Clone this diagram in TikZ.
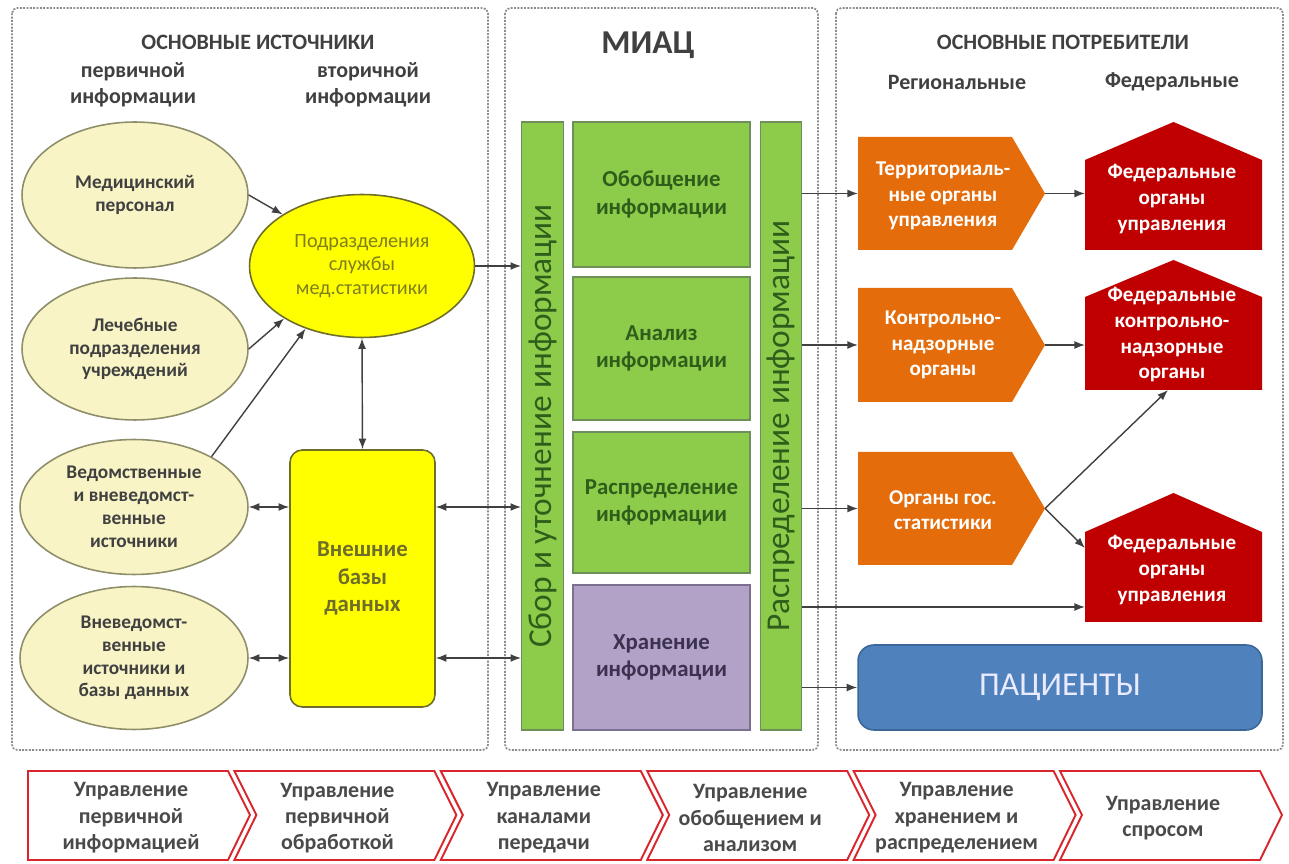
\documentclass[tikz,border=0pt]{standalone}
\usepackage{fontspec}
\setmainfont{Carlito}
\usepackage{xcolor}
\usepackage{tikz}
\usetikzlibrary{arrows.meta,shapes.geometric}

\definecolor{panelgray}{HTML}{8C8C8C}
\definecolor{titlegray}{HTML}{404040}
\definecolor{ellfill}{HTML}{F8F4C6}
\definecolor{ellline}{HTML}{8E8E6A}
\definecolor{ellyel}{HTML}{FFFF00}
\definecolor{yelline}{HTML}{6E6E2A}
\definecolor{yeltxt}{HTML}{7F7F1A}
\definecolor{arrgray}{HTML}{404040}
\definecolor{greenc}{HTML}{8DCB4B}
\definecolor{greenline}{HTML}{6F8F5A}
\definecolor{greentxt}{HTML}{2F5E1A}
\definecolor{lilac}{HTML}{B2A2C8}
\definecolor{lilacline}{HTML}{7C7090}
\definecolor{lilactxt}{HTML}{3D3150}
\definecolor{orangec}{HTML}{E46C0A}
\definecolor{redc}{HTML}{C00000}
\definecolor{bluec}{HTML}{4F81BD}
\definecolor{blueline}{HTML}{3A6698}
\definecolor{chevline}{HTML}{D8262C}
\definecolor{chevtxt}{HTML}{4A4A4A}

\newcommand\fsz[2]{\fontsize{#1}{#2}\selectfont}

\begin{document}
\begin{tikzpicture}[x=0.02cm, y=-0.02cm,
    panel/.style={draw=panelgray, dash pattern=on 1.1pt off 0.8pt, line width=1pt, rounded corners=3pt},
    head/.style={text=titlegray, font=\bfseries\fsz{12.5}{15}, align=center},
    subhead/.style={text=titlegray, font=\bfseries\fsz{12.5}{14.8}, align=center},
    srcell/.style={ellipse, draw=ellline, line width=0.9pt, fill=ellfill, inner sep=0pt,
        align=center, text=titlegray, font=\bfseries\fsz{11}{13}},
    arr/.style={-{Latex[length=6pt,width=4.5pt]}, draw=arrgray, line width=0.8pt},
    darr/.style={{Latex[length=6pt,width=4.5pt]}-{Latex[length=6pt,width=4.5pt]}, draw=arrgray, line width=0.8pt},
    stagebox/.style={rectangle, draw=greenline, fill=greenc, line width=0.8pt, inner sep=0pt,
        minimum width=3.54cm, align=center, text=greentxt, font=\bfseries\fsz{13}{15.5}},
    vbar/.style={rectangle, draw=greenline, fill=greenc, line width=0.8pt, inner sep=0pt,
        rotate=90, minimum width=12.16cm, minimum height=0.83cm, text=greentxt, font=\fsz{19}{22}},
    usrtxt/.style={text=white, font=\bfseries\fsz{12}{14.6}, align=center},
    stagetxt/.style={text=chevtxt, font=\bfseries\fsz{12.5}{15}, align=center}
]
\useasboundingbox (0,0) rectangle (1289,864);

% panels
\draw[panel] (12,8) rectangle (488,750);
\draw[panel] (505,8) rectangle (818,750);
\draw[panel] (836,8) rectangle (1283,750);

% headings
\node[head] (srctitle) at (258,42) {ОСНОВНЫЕ ИСТОЧНИКИ};
\node[subhead] (prim) at (133,85) {первичной\\информации};
\node[subhead] (sec) at (368,85) {вторичной\\информации};
\node[text=titlegray, font=\bfseries\fsz{19}{22}] (miac) at (648,45) {МИАЦ};
\node[head] (usrtitle) at (1063,42) {ОСНОВНЫЕ ПОТРЕБИТЕЛИ};
\node[subhead] (reg) at (957,82) {Региональные};
\node[subhead] (fed) at (1172,82) {Федеральные};

% sources
\node[srcell, minimum width=4.52cm, minimum height=2.92cm] (e1) at (135,195) {Медицинский\\персонал};
\node[srcell, minimum width=4.52cm, minimum height=2.84cm] (e2) at (135,349) {Лечебные\\подразделения\\учреждений};
\node[srcell, minimum width=4.56cm, minimum height=2.7cm] (e3) at (134,507) {Ведомственные\\и вневедомст-\\венные\\источники};
\node[srcell, minimum width=4.56cm, minimum height=2.86cm] (e4) at (134,658) {Вневедомст-\\венные\\источники и\\базы данных};

\node[ellipse, draw=yelline, line width=0.9pt, fill=ellyel, inner sep=0pt, minimum width=4.5cm,
    minimum height=2.86cm, align=center, text=yeltxt, font=\fsz{11.5}{13.2}] (ye) at (362,266)
    {Подразделения\\службы\\мед.статистики};
\node[rectangle, rounded corners=7pt, draw=yelline, line width=0.9pt, fill=ellyel, inner sep=0pt,
    minimum width=2.9cm, minimum height=5.14cm, align=center, text=yelline,
    font=\bfseries\fsz{13}{15.5}] (db) at (362.5,578.5) {Внешние\\базы\\данных};

% MIAC
\node[vbar] (barL) at (542.5,426) {Сбор и уточнение информации};
\node[vbar] (barR) at (781,426) {Распределение информации};
\node[stagebox, minimum height=2.9cm] (b1) at (661.5,194.5) {Обобщение\\информации};
\node[stagebox, minimum height=2.86cm] (b2) at (661.5,348.5) {Анализ\\информации};
\node[stagebox, minimum height=2.82cm] (b3) at (661.5,502.5) {Распределение\\информации};
\node[stagebox, minimum height=2.9cm, fill=lilac, draw=lilacline, text=lilactxt] (b4) at (661.5,657.5) {Хранение\\информации};

% consumers
\foreach \n/\t/\b in {1/137/250, 2/288/402, 3/452/565} {
    \fill[orangec] (858,\t) -- (1012,\t) -- (1045,{(\t+\b)/2}) -- (1012,\b) -- (858,\b) -- cycle;
    \coordinate (o\n w) at (858,{(\t+\b)/2});
    \coordinate (o\n tip) at (1045,{(\t+\b)/2});
}
\foreach \n/\p/\s/\b in {1/122/160/250, 2/260/297/390, 3/493/532/622} {
    \fill[redc] (1085,\s) -- (1173.5,\p) -- (1262,\s) -- (1262,\b) -- (1085,\b) -- cycle;
    \coordinate (h\n w) at (1085,\s);
}
\coordinate (h2s) at (1168,390);
\coordinate (h3in) at (1085,548);
\coordinate (h3low) at (1085,607);

\node[usrtxt] (o1) at (943,196) {Территориаль-\\ные органы\\управления};
\node[usrtxt] (o2) at (943,345) {Контрольно-\\надзорные\\органы};
\node[usrtxt] (o3) at (943,510) {Органы гос.\\статистики};
\node[usrtxt] (h1) at (1172,199) {Федеральные\\органы\\управления};
\node[usrtxt] (h2) at (1172,335) {Федеральные\\контрольно-\\надзорные\\органы};
\node[usrtxt] (h3) at (1172,570) {Федеральные\\органы\\управления};

\node[rectangle, rounded corners=9pt, draw=blueline, line width=0.9pt, fill=bluec,
    minimum width=8.08cm, minimum height=1.7cm, text=blue!8, font=\fsz{19}{22}] (pac) at (1060,687.5) {ПАЦИЕНТЫ};

% connectors, sources
\draw[arr] (e1.east) -- (ye.147);
\draw[arr] (e2.east) -- (ye.214);
\draw[arr] (e3.33) -- (ye.228);
\draw[darr] (ye.south) -- (db.north);
\draw[darr] (e3.east) -- (db.west |- e3.east);
\draw[darr] (e4.east) -- (db.west |- e4.east);
\draw[darr] (db.east |- e3.east) -- (barL.north |- e3.east);
\draw[darr] (db.east |- e4.east) -- (barL.north |- e4.east);
\draw[arr] (ye.east) -- (barL.north |- ye.east);

% connectors, consumers
\draw[arr] (barR.south |- o1w) -- (o1w);
\draw[arr] (barR.south |- o2w) -- (o2w);
\draw[arr] (barR.south |- o3w) -- (o3w);
\draw[arr] (barR.south |- h3low) -- (h3low);
\draw[arr] (barR.south |- pac.west) -- (pac.west);
\draw[arr] (o1tip) -- (o1tip -| h1w);
\draw[arr] (o2tip) -- (o2tip -| h2w);
\draw[arr] (o3tip) -- (h2s);
\draw[arr] (o3tip) -- (h3in);

% management chain
\foreach \i/\txt in {0/{Управление\\первичной\\информацией}, 1/{Управление\\первичной\\обработкой},
    2/{Управление\\каналами\\передачи}, 3/{Управление\\обобщением и\\анализом},
    4/{Управление\\хранением и\\распределением}, 5/{Управление\\спросом}} {
    \pgfmathsetmacro\L{28+206.4*\i}
    \pgfmathsetmacro\R{\L+200}
    \pgfmathsetmacro\N{\i>0 ? 22 : 0}
    \draw[chevline, line width=1.1pt, fill=white, line join=miter]
        (\L,771) -- (\R,771) -- ({\R+22},815) -- (\R,860) -- (\L,860) -- ({\L+\N},815) -- cycle;
    \node[stagetxt] (st\i) at ({(\L+\R)/2+3},818) {\txt};
}
\end{tikzpicture}
\end{document}
